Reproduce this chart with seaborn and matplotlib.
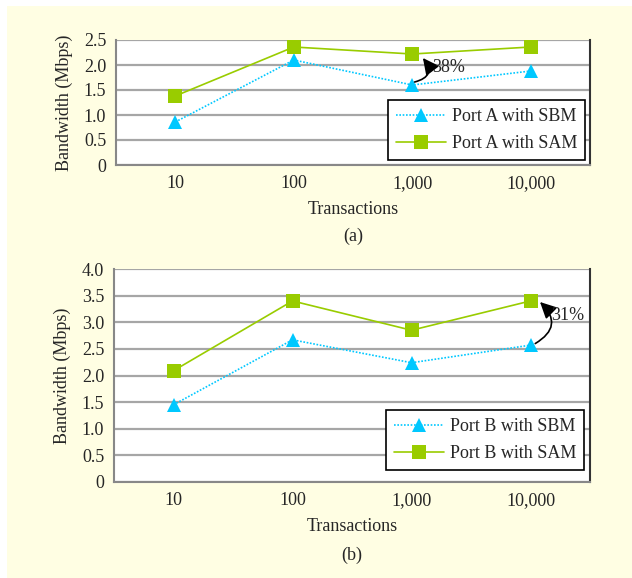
import pandas as pd
import numpy as np
import matplotlib.pyplot as plt
import seaborn as sns
from matplotlib.patches import Rectangle

transactions = ["10", "100", "1,000", "10,000"]
port_a_sbm = [0.86, 2.10, 1.60, 1.88]
port_a_sam = [1.38, 2.36, 2.22, 2.36]
port_b_sbm = [1.45, 2.67, 2.24, 2.57]
port_b_sam = [2.09, 3.40, 2.85, 3.40]

SBM_COLOR = "#00c8ff"
SAM_COLOR = "#99cc00"
BG = "#fffee3"

sns.set_theme(style="white")
plt.rcParams["font.family"] = ["Liberation Serif", "DejaVu Serif"]


def make_df(port, sbm, sam):
    # long table for seaborn
    rows = []
    for t, v in zip(transactions, sbm):
        rows.append((t, v, f"Port {port} with SBM"))
    for t, v in zip(transactions, sam):
        rows.append((t, v, f"Port {port} with SAM"))
    return pd.DataFrame(rows, columns=["Transactions", "Bandwidth", "Series"])


def draw_panel(ax, port, sbm, sam, ymax, letter, leg_anchor):
    df = make_df(port, sbm, sam)
    names = [f"Port {port} with SBM", f"Port {port} with SAM"]
    sns.lineplot(data=df, x="Transactions", y="Bandwidth", hue="Series", style="Series",
                 palette={names[0]: SBM_COLOR, names[1]: SAM_COLOR},
                 markers={names[0]: "^", names[1]: "s"},
                 dashes={names[0]: (1, 1), names[1]: ""},
                 markersize=10, markeredgewidth=0, linewidth=1.2, sort=False, ax=ax, zorder=3)
    ax.set_facecolor("white")
    ax.set_xlim(-0.5, len(transactions) - 0.5)
    ax.set_ylim(0, ymax)
    yt = np.arange(0, ymax + 0.01, 0.5)
    ax.set_yticks(yt)
    ax.set_yticklabels(["0" if v == 0 else f"{v:.1f}" for v in yt], fontsize=13)
    ax.set_xticks(range(len(transactions)))
    ax.set_xticklabels(transactions, fontsize=13)
    ax.set_xticks(np.arange(-0.5, len(transactions)), minor=True)
    ax.tick_params(axis="x", which="major", length=0, pad=7)
    ax.tick_params(axis="x", which="minor", length=5, color="#888888", width=1.2, direction="out")
    ax.tick_params(axis="y", length=5, color="#888888", width=1.2, direction="out", pad=2)
    ax.grid(axis="y", color="#a6a6a6", linewidth=1.6, zorder=0)
    ax.set_axisbelow(True)
    for s in ["left", "bottom"]:
        ax.spines[s].set_color("#888888")
        ax.spines[s].set_linewidth(1.5)
    ax.spines["top"].set_visible(False)
    ax.spines["right"].set_color("#333333")
    ax.spines["right"].set_linewidth(1.5)
    ax.set_ylabel("Bandwidth (Mbps)", fontsize=13, labelpad=8)
    ax.set_xlabel("Transactions", fontsize=13, labelpad=7)
    ax.text(0.5, letter[1], letter[0], transform=ax.transAxes, ha="center", va="top", fontsize=13)

    handles, labels = ax.get_legend_handles_labels()
    leg = ax.legend(handles, labels, loc="lower right", bbox_to_anchor=leg_anchor, fontsize=13,
                    frameon=True, fancybox=False, framealpha=1, edgecolor="black",
                    handlelength=2.8, handletextpad=0.3, labelspacing=0.55, borderpad=0.45,
                    borderaxespad=0)
    leg.get_frame().set_linewidth(1.2)
    leg.set_zorder(5)


fig = plt.figure(figsize=(6.32, 5.78), dpi=100, facecolor="white")
fig.patches.append(Rectangle((7 / 632, 0), 1, 1 - 6 / 578, transform=fig.transFigure,
                             facecolor=BG, edgecolor="none", zorder=-10))

ax1 = fig.add_axes([116 / 632, 1 - 165 / 578, 474 / 632, 125 / 578])
ax2 = fig.add_axes([114 / 632, 1 - 482 / 578, 476 / 632, 213 / 578])

draw_panel(ax1, "A", port_a_sbm, port_a_sam, 2.5, ("(a)", -0.5), (0.99, 0.04))
draw_panel(ax2, "B", port_b_sbm, port_b_sam, 4.0, ("(b)", -0.305), (0.988, 0.056))

arrow = dict(arrowstyle="-|>,head_length=0.7,head_width=0.35", color="black", lw=1.2,
             shrinkA=0, shrinkB=0, mutation_scale=14)
ax1.annotate("", xy=(2.09, 2.14), xytext=(2.02, 1.66),
             arrowprops=dict(arrow, connectionstyle="arc3,rad=0.75"))
ax1.text(2.17, 1.94, "38%", fontsize=13, va="center", ha="left")

ax2.annotate("", xy=(3.08, 3.38), xytext=(3.04, 2.6),
             arrowprops=dict(arrow, connectionstyle="arc3,rad=0.65"))
ax2.text(3.17, 3.13, "31%", fontsize=13, va="center", ha="left")

plt.savefig("out.png", dpi=100, facecolor=fig.get_facecolor())
